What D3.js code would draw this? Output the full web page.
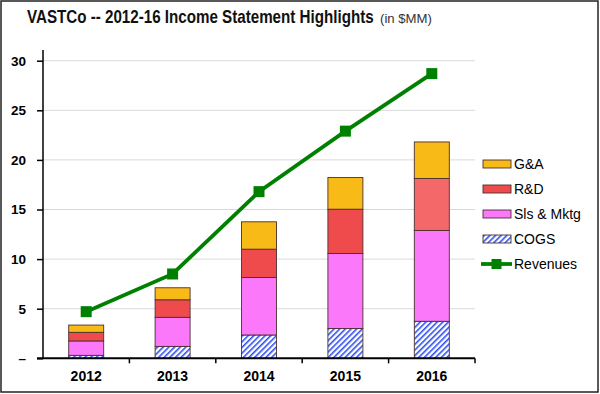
<!DOCTYPE html>
<html><head><meta charset="utf-8">
<script src="https://cdn.jsdelivr.net/npm/d3@7"></script>
<style>
html,body{margin:0;padding:0;background:#fff;}
svg{display:block;font-family:"Liberation Sans",Arial,sans-serif;}
</style></head>
<body>
<svg id="c" width="600" height="394"></svg>
<script>
const years = ["2012","2013","2014","2015","2016"];
const cogs = [0.3, 1.2, 2.35, 3.0, 3.73];
const slsMktg = [1.45, 2.93, 5.8, 7.57, 9.16];
const rnd = [0.87, 1.77, 2.85, 4.46, 5.24];
const gna = [0.73, 1.21, 2.76, 3.2, 3.68];
const revenues = [4.7, 8.5, 16.8, 22.9, 28.7];
const yTicks = [0, 5, 10, 15, 20, 25, 30];
const yTickLabels = ["–", "5", "10", "15", "20", "25", "30"];
const seriesNames = ["COGS", "Sls & Mktg", "R&D", "G&A"];
const legendNames = ["G&A", "R&D", "Sls & Mktg", "COGS", "Revenues"];

const svg = d3.select("#c");
const defs = svg.append("defs");
const pat = defs.append("pattern").attr("id","hatch").attr("patternUnits","userSpaceOnUse")
  .attr("width",4).attr("height",4).attr("patternTransform","rotate(45)");
pat.append("rect").attr("width",4).attr("height",4).attr("fill","#fff");
pat.append("rect").attr("x",0).attr("y",0).attr("width",1.6).attr("height",4).attr("fill","#2f4ff0");

const colors = {"COGS":"url(#hatch)","Sls & Mktg":"#fb78fb","R&D":"#f04b4c","G&A":"#f8ba16"};

// border
svg.append("rect").attr("x",1).attr("y",1).attr("width",597).attr("height",391)
  .attr("fill","none").attr("stroke","#222").attr("stroke-width",1.5);

// title (condensed by horizontal scaling)
function fitText(sel, x0, y0, w){
  const len = sel.node().getComputedTextLength();
  sel.attr("transform", `translate(${x0},${y0}) scale(${w/len},1)`);
}
const t1 = svg.append("text").attr("x",0).attr("y",0).attr("fill","#111")
  .attr("font-size",17.5).attr("font-weight","bold")
  .text("VASTCo -- 2012-16 Income Statement Highlights");
fitText(t1, 27, 23, 347);
const t2 = svg.append("text").attr("x",0).attr("y",0).attr("fill","#333")
  .attr("font-size",12.5).text("(in $MM)");
fitText(t2, 380, 23, 52);

const x = d3.scaleBand().domain(years).range([43,475]).paddingInner(0.595).paddingOuter(0.2975);
const y = d3.scaleLinear().domain([0,30]).range([358.3,60.7]);

// gridlines
svg.append("g").selectAll("line").data(yTicks.slice(1)).join("line")
  .attr("x1",43).attr("x2",475).attr("y1",d=>y(d)).attr("y2",d=>y(d))
  .attr("stroke","#d9d9d9").attr("stroke-width",1);

// stacks
const table = years.map((yr,i)=>({year:yr,"COGS":cogs[i],"Sls & Mktg":slsMktg[i],"R&D":rnd[i],"G&A":gna[i]}));
const stack = d3.stack().keys(seriesNames)(table);
stack.forEach(layer=>{
  svg.append("g").selectAll("rect").data(layer).join("rect")
    .attr("x",d=>x(d.data.year)).attr("width",x.bandwidth())
    .attr("y",d=>y(d[1])).attr("height",d=>y(d[0])-y(d[1]))
    .attr("fill",d=> (layer.key==="R&D" && d.data.year==="2016") ? "#f4686a" : colors[layer.key])
    .attr("stroke","#4a3030").attr("stroke-width",0.9);
});

// axes
const yAxis = d3.axisLeft(y).tickValues(yTicks).tickFormat((d,i)=>yTickLabels[i]).tickSize(6).tickPadding(11);
const gy = svg.append("g").attr("transform","translate(43,0)").call(yAxis);
gy.select(".domain").remove();
gy.append("line").attr("x1",0).attr("x2",0).attr("y1",50).attr("y2",y(0)).attr("stroke","#000").attr("stroke-width",1.5);
gy.selectAll(".tick line").attr("stroke","#000").attr("stroke-width",1.5);
gy.selectAll(".tick text").attr("font-size",13.5).attr("font-weight","bold").attr("fill","#000")
  .attr("font-family","Liberation Sans, Arial, sans-serif");

const xb = d3.scalePoint().domain(d3.range(6)).range([43,475]);
svg.append("line").attr("x1",37).attr("x2",475).attr("y1",y(0)).attr("y2",y(0)).attr("stroke","#000").attr("stroke-width",2);
svg.append("g").selectAll("line").data(d3.range(1,6)).join("line")
  .attr("x1",d=>xb(d)).attr("x2",d=>xb(d)).attr("y1",y(0)).attr("y2",y(0)+5).attr("stroke","#000").attr("stroke-width",1.5);
svg.append("g").selectAll("text").data(years).join("text")
  .attr("x",d=>x(d)+x.bandwidth()/2).attr("y",381).attr("text-anchor","middle")
  .attr("font-size",14).attr("font-weight","bold").attr("fill","#000").text(d=>d);

// revenue line
const line = d3.line().x((d,i)=>x(years[i])+x.bandwidth()/2).y(d=>y(d));
svg.append("path").datum(revenues).attr("d",line).attr("fill","none").attr("stroke","#008000").attr("stroke-width",3.8);
svg.append("g").selectAll("rect").data(revenues).join("rect")
  .attr("x",(d,i)=>x(years[i])+x.bandwidth()/2-5.5).attr("y",d=>y(d)-5.5)
  .attr("width",11).attr("height",11).attr("fill","#008000");

// legend
const lg = svg.append("g");
legendNames.forEach((n,i)=>{
  const cy = 164 + i*25;
  if(n==="Revenues"){
    lg.append("line").attr("x1",481).attr("x2",512).attr("y1",cy).attr("y2",cy).attr("stroke","#008000").attr("stroke-width",3.8);
    lg.append("rect").attr("x",491.5).attr("y",cy-5).attr("width",10).attr("height",10).attr("fill","#008000");
  } else {
    lg.append("rect").attr("x",483).attr("y",cy-4).attr("width",28).attr("height",8)
      .attr("fill",colors[n]).attr("stroke","#4a3030").attr("stroke-width",0.9);
  }
  lg.append("text").attr("x",514).attr("y",cy+5).attr("font-size",14).attr("fill","#000").text(n);
});
</script>
</body></html>
